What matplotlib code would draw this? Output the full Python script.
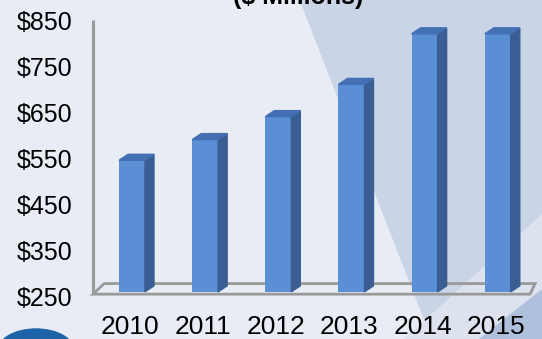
import matplotlib.pyplot as plt
from matplotlib.patches import Polygon, Ellipse, Arc

# Данные графика
years = ["2010", "2011", "2012", "2013", "2014", "2015"]
values = [545, 590, 640, 710, 820, 820]
yticks = [250, 350, 450, 550, 650, 750, 850]
ytick_labels = ["$250", "$350", "$450", "$550", "$650", "$750", "$850"]
title = "($ Millions)"

FRONT = "#5A8FD6"
SIDE = "#3A5E93"
TOP = "#4470B3"
GRID = "#9A9A9A"

W, H = 542, 339
fig = plt.figure(figsize=(W / 100, H / 100), dpi=100)
plt.rcParams['font.family'] = ['Liberation Sans', 'DejaVu Sans']

# Фон: светлая часть и тёмная диагональная плоскость справа
bg = fig.add_axes([0, 0, 1, 1], zorder=-10)
bg.set_xlim(0, W)
bg.set_ylim(H, 0)
bg.axis('off')
bg.add_patch(Polygon([(0, 0), (W, 0), (W, H), (0, H)], color="#E8ECF4"))
bg.add_patch(Polygon([(300, 0), (W, 0), (W, H), (432, H)], color="#C9D4E7"))
bg.add_patch(Polygon([(405, 339), (542, 215), (542, 339)], color="#DCE3EF"))
bg.add_patch(Polygon([(480, 339), (542, 290), (542, 339)], color="#AFC0DD"))
# логотип в левом нижнем углу
bg.add_patch(Ellipse((36, 352), 78, 46, color="#1C63A7"))
bg.add_patch(Arc((60, 374), 130, 90, theta1=110, theta2=150, color="white", lw=1.2))

ax = fig.add_axes([93 / W, (H - 296) / H, (530 - 93) / W, 276 / H])
ax.set_xlim(-0.533, 5.44)
ax.set_ylim(250, 850)
ax.patch.set_alpha(0)

x = list(range(len(years)))
bw = 0.355        # ширина передней грани
dx, dy = 0.123, 13  # глубина 3D-эффекта
base = 259

ax.bar(x, [v - base for v in values], bottom=base, width=bw,
       color=FRONT, zorder=3)
for xi, v in zip(x, values):
    x0, x1 = xi - bw / 2, xi + bw / 2
    ax.add_patch(Polygon([(x1, base), (x1 + dx, base + dy),
                          (x1 + dx, v + dy), (x1, v)],
                         color=SIDE, zorder=3, clip_on=False))
    ax.add_patch(Polygon([(x0, v), (x1, v), (x1 + dx, v + dy),
                          (x0 + dx, v + dy)],
                         color=TOP, zorder=3, clip_on=False))

# Пол
ax.add_patch(Polygon([(-0.533, 254), (-0.38, 277), (5.51, 277), (5.44, 254)],
                     closed=True, fill=False, edgecolor=GRID, lw=2,
                     zorder=2, clip_on=False))
ax.plot([-0.533, -0.533], [254, 850], color=GRID, lw=2.2, zorder=2,
        clip_on=False, solid_capstyle='butt')

for s in ax.spines.values():
    s.set_visible(False)
ax.set_yticks(yticks)
ax.set_yticklabels(ytick_labels, fontsize=18)
ax.set_xticks([xi - 0.03 for xi in x])
ax.set_xticklabels(years, fontsize=19)
ax.tick_params(length=0)
ax.tick_params(axis='y', pad=14.5)
ax.tick_params(axis='x', pad=13.5)

fig.text(298 / W, 1 - 4 / H, title, ha='center', va='baseline',
         fontsize=18, fontweight='bold')

plt.savefig("out.png", dpi=100)
